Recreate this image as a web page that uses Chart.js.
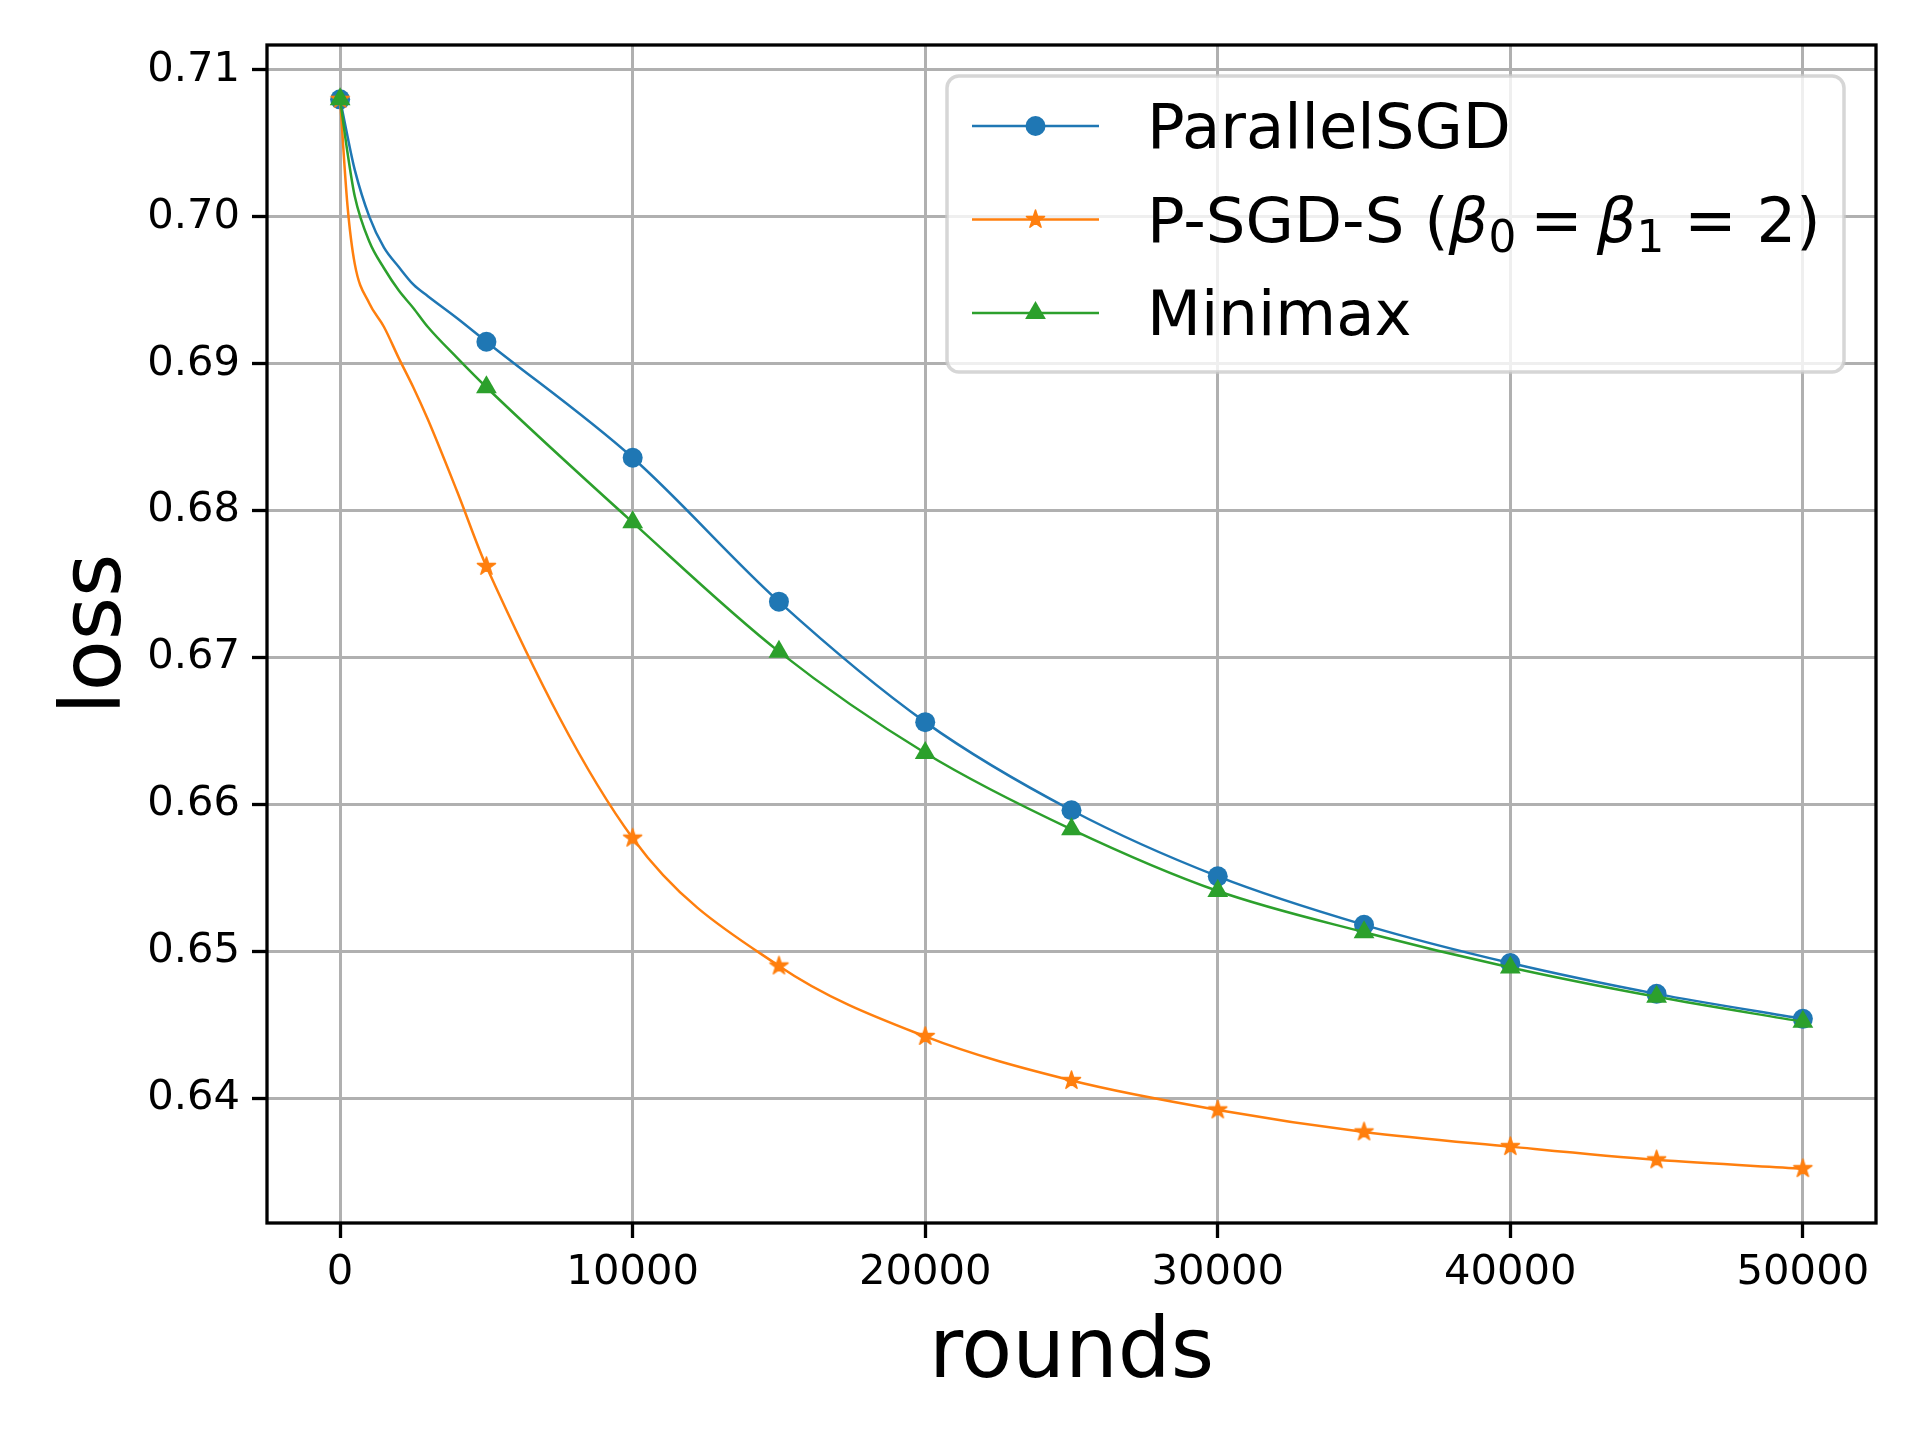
<!DOCTYPE html>
<html>
<head>
<meta charset="utf-8">
<script src="https://cdn.jsdelivr.net/npm/chart.js@4.4.0/dist/chart.umd.min.js"></script>
<style>
    html, body { margin: 0; padding: 0; background: #fff; }
    canvas { display: block; }
</style>
</head>
<body>
<canvas id="myChart" width="1920" height="1440" style="width:1920px;height:1440px"></canvas>
<script>
'use strict';
// data
const rounds = [0, 250, 500, 1000, 1500, 2000, 2500, 3000, 4000, 5000, 10000, 15000, 20000, 25000, 30000, 35000, 40000, 45000, 50000];
const parallelSGD = [0.7080, 0.7055, 0.7032, 0.7000, 0.6979, 0.6966, 0.6954, 0.6946, 0.6931, 0.6915, 0.6836, 0.6738, 0.6656, 0.6596, 0.6551, 0.6518, 0.6492, 0.6471, 0.6454];
const pSgdS = [0.7080, 0.7008, 0.6968, 0.6941, 0.6925, 0.6904, 0.6884, 0.6862, 0.6813, 0.6762, 0.6577, 0.6490, 0.6442, 0.6412, 0.6392, 0.6377, 0.6367, 0.6358, 0.6352];
const minimax = [0.7080, 0.7044, 0.7014, 0.6983, 0.6965, 0.6950, 0.6938, 0.6925, 0.6904, 0.6884, 0.6792, 0.6704, 0.6635, 0.6583, 0.6541, 0.6513, 0.6489, 0.6469, 0.6452];
const xTicks = [0, 10000, 20000, 30000, 40000, 50000];
const yTicks = [0.64, 0.65, 0.66, 0.67, 0.68, 0.69, 0.70, 0.71];
const seriesNames = ['ParallelSGD', 'P-SGD-S (β₀ = β₁ = 2)', 'Minimax'];

const FONT = "'DejaVu Sans', sans-serif";
const BLUE = '#1f77b4';
const ORANGE = '#ff7f0e';
const GREEN = '#2ca02c';

// filled star marker (matplotlib '*')
const makeStar = (color, R) => {
    const c = document.createElement('canvas');
    const s = Math.ceil(R * 2 + 4);
    c.width = s;
    c.height = s;
    const g = c.getContext('2d');
    g.translate(s / 2, s / 2);
    g.beginPath();
    for (let i = 0; i < 10; i++) {
        const r = i % 2 ? R * 0.382 : R;
        const a = -Math.PI / 2 + i * Math.PI / 5;
        g.lineTo(r * Math.cos(a), r * Math.sin(a));
    }
    g.closePath();
    g.fillStyle = color;
    g.fill();
    g.lineJoin = 'round';
    g.lineWidth = 1.5;
    g.strokeStyle = color;
    g.stroke();
    return c;
};
const starImg = makeStar(ORANGE, 9.5);

const makeSeries = (label, values, color, style, radius, order) => ({
    label: label,
    data: rounds.map((x, i) => ({ x: x, y: values[i] })),
    borderColor: color,
    backgroundColor: color,
    borderWidth: 2.5,
    pointStyle: style,
    pointRadius: ctx => rounds[ctx.dataIndex] % 5000 === 0 ? radius : 0,
    pointBorderWidth: 0,
    pointBackgroundColor: color,
    cubicInterpolationMode: 'monotone',
    fill: false,
    order: order,
    legendRadius: radius
});

// legend label pieces (mathtext style for the beta part)
const legendPieces = [
    [{ t: 'ParallelSGD' }],
    [{ t: 'P-SGD-S (' }, { t: 'β', it: true }, { t: '0', sub: true }, { t: '=', rel: true },
     { t: 'β', it: true }, { t: '1', sub: true }, { t: ' = 2)' }],
    [{ t: 'Minimax' }]
];

const drawPieces = (ctx, pieces, x, y, size) => {
    pieces.forEach(p => {
        if (p.sub) {
            ctx.font = `${size * 0.7}px ${FONT}`;
            ctx.fillText(p.t, x, y + 10);
            x += ctx.measureText(p.t).width;
        } else if (p.rel) {
            ctx.font = `${size}px ${FONT}`;
            x += 14;
            ctx.fillText(p.t, x, y);
            x += ctx.measureText(p.t).width + 14;
        } else {
            ctx.font = `${p.it ? 'italic ' : ''}${size}px ${FONT}`;
            ctx.fillText(p.t, x, y);
            x += ctx.measureText(p.t).width;
        }
    });
};

// axes frame on all four sides
const framePlugin = {
    id: 'frame',
    afterDatasetsDraw(chart) {
        const { ctx, chartArea: a } = chart;
        ctx.save();
        ctx.strokeStyle = '#000';
        ctx.lineWidth = 3.3;
        ctx.strokeRect(a.left, a.top, a.right - a.left, a.bottom - a.top);
        ctx.restore();
    }
};

// matplotlib-like legend box in the upper right
const legendPlugin = {
    id: 'mplLegend',
    afterDraw(chart) {
        const ctx = chart.ctx;
        const box = { left: 947, top: 76, right: 1844, bottom: 372 };
        ctx.save();
        ctx.beginPath();
        ctx.roundRect(box.left, box.top, box.right - box.left, box.bottom - box.top, 12);
        ctx.fillStyle = 'rgba(255,255,255,0.8)';
        ctx.fill();
        ctx.lineWidth = 3.5;
        ctx.strokeStyle = 'rgba(204,204,204,0.8)';
        ctx.stroke();

        chart.data.datasets.forEach((ds, row) => {
            const y = 126 + row * 93.5;
            ctx.beginPath();
            ctx.moveTo(972, y);
            ctx.lineTo(1099, y);
            ctx.lineWidth = ds.borderWidth;
            ctx.strokeStyle = ds.borderColor;
            ctx.stroke();
            ctx.fillStyle = ds.pointBackgroundColor;
            Chart.helpers.drawPoint(ctx, {
                pointStyle: ds.pointStyle,
                radius: ds.legendRadius,
                rotation: 0,
                borderWidth: 0
            }, 1035.5, y);
            ctx.fillStyle = '#000';
            ctx.textBaseline = 'alphabetic';
            ctx.textAlign = 'left';
            drawPieces(ctx, legendPieces[row], 1147, y + 22, 62.5);
        });
        ctx.restore();
    }
};

const gridOpts = {
    color: '#b0b0b0',
    lineWidth: 3,
    drawTicks: true,
    tickLength: 15,
    tickWidth: 3.3,
    tickColor: '#000'
};

const ctxEl = document.getElementById('myChart');
const myChart = new Chart(ctxEl.getContext('2d'), {
    type: 'line',
    data: {
        datasets: [
            makeSeries(seriesNames[0], parallelSGD, BLUE, 'circle', 10, 3),
            makeSeries(seriesNames[1], pSgdS, ORANGE, starImg, 9, 2),
            makeSeries(seriesNames[2], minimax, GREEN, 'triangle', 12, 1)
        ]
    },
    options: {
        responsive: false,
        devicePixelRatio: 1,
        animation: false,
        events: [],
        layout: {
            padding: { top: 45, right: 44, bottom: 0, left: 0 }
        },
        plugins: {
            legend: { display: false },
            tooltip: { enabled: false }
        },
        scales: {
            x: {
                type: 'linear',
                min: -2500,
                max: 52500,
                afterBuildTicks: axis => { axis.ticks = xTicks.map(v => ({ value: v })); },
                afterFit: axis => { axis.height = 217; },
                grid: gridOpts,
                border: { display: false },
                ticks: {
                    color: '#000',
                    font: { family: FONT, size: 41.7 },
                    padding: 10,
                    maxRotation: 0,
                    autoSkip: false,
                    callback: v => String(v)
                },
                title: {
                    display: true,
                    text: 'rounds',
                    color: '#000',
                    font: { family: FONT, size: 83.3 },
                    padding: { top: 0, bottom: 35 }
                }
            },
            y: {
                type: 'linear',
                min: 0.6315,
                max: 0.7117,
                afterBuildTicks: axis => { axis.ticks = yTicks.map(v => ({ value: v })); },
                afterFit: axis => { axis.width = 267; },
                grid: gridOpts,
                border: { display: false },
                ticks: {
                    color: '#000',
                    font: { family: FONT, size: 41.7 },
                    padding: 12,
                    autoSkip: false,
                    callback: v => v.toFixed(2)
                },
                title: {
                    display: true,
                    text: 'loss',
                    color: '#000',
                    font: { family: FONT, size: 83.3 },
                    padding: { top: 48, bottom: 0 }
                }
            }
        }
    },
    plugins: [framePlugin, legendPlugin]
});
</script>
</body>
</html>
